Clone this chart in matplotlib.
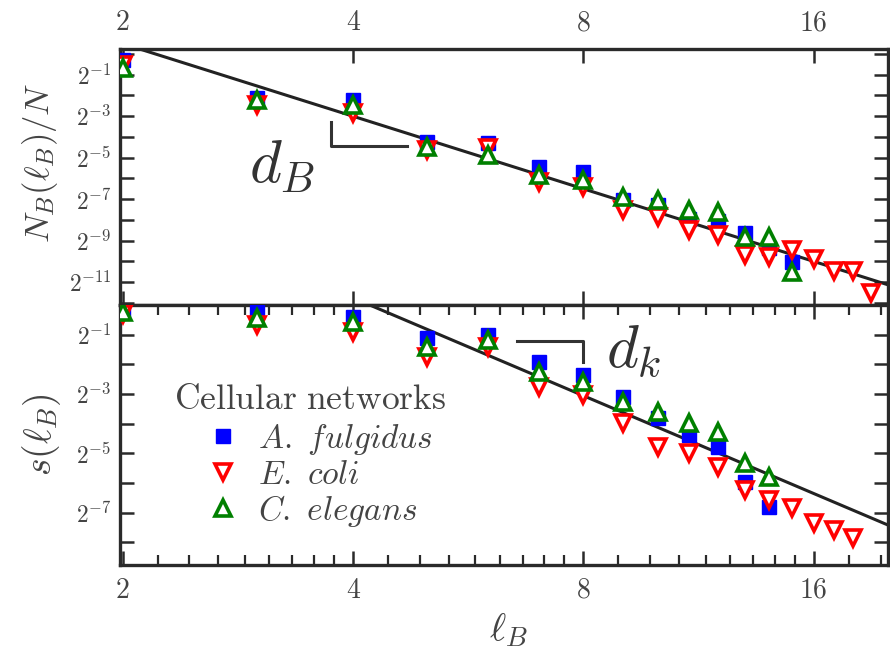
import numpy as np
import matplotlib
matplotlib.use("Agg")
import matplotlib.pyplot as plt
from matplotlib.ticker import FixedLocator, FixedFormatter, NullFormatter

plt.rcParams['mathtext.fontset'] = 'cm'
plt.rcParams['font.family'] = ['cmr10', 'DejaVu Serif']
plt.rcParams['axes.formatter.use_mathtext'] = True

# ---------------- data (log2 of the values) -------------
lB_A_top = [2, 3, 4, 5, 6, 7, 8, 9, 10, 11, 12, 13, 14, 15]
NB_A_log2 = [-0.30, -2.13, -2.23, -4.25, -4.30, -5.46, -5.70, -7.05, -7.30, -7.96, -8.05, -8.64, -9.36, -10.04]
lB_E_top = [2, 3, 4, 5, 6, 7, 8, 9, 10, 11, 12, 13, 14, 15, 16, 17, 18, 19]
NB_E_log2 = [-0.54, -2.47, -2.86, -4.64, -4.54, -6.18, -6.42, -7.53, -7.87, -8.49, -8.73, -9.70, -9.80,
             -9.46, -9.89, -10.45, -10.45, -11.50]
lB_C_top = [2, 3, 4, 5, 6, 7, 8, 9, 10, 11, 12, 13, 14, 15]
NB_C_log2 = [-0.69, -2.23, -2.47, -4.49, -4.88, -5.84, -6.08, -6.90, -7.05, -7.53, -7.63, -8.83, -8.83, -10.52]

lB_A_bot = [2, 3, 4, 5, 6, 7, 8, 9, 10, 11, 12, 13, 14]
s_A_log2 = [-0.16, -0.22, -0.39, -1.10, -1.00, -1.91, -2.35, -3.09, -3.80, -4.38, -4.78, -5.97, -6.81]
lB_E_bot = [2, 3, 4, 5, 6, 7, 8, 9, 10, 11, 12, 13, 14, 15, 16, 17, 18]
s_E_log2 = [-0.32, -0.66, -0.90, -1.74, -1.41, -2.76, -3.03, -3.97, -4.78, -4.98, -5.45, -6.24, -6.58,
            -6.85, -7.36, -7.59, -7.86]
lB_C_bot = [2, 3, 4, 5, 6, 7, 8, 9, 10, 11, 12, 13, 14]
s_C_log2 = [-0.22, -0.43, -0.59, -1.41, -1.17, -2.25, -2.59, -3.26, -3.60, -3.97, -4.28, -5.33, -5.80]

# power-law fits
dB_exponent = 3.5
dB_log2_prefactor = 4.0
dk_exponent = 3.3
dk_log2_prefactor = 6.84

series_names = [r"$\mathit{A.\ fulgidus}$", r"$\mathit{E.\ coli}$", r"$\mathit{C.\ elegans}$"]
legend_title = r"$\mathrm{Cellular\ networks}$"
xtick_values = [2, 4, 8, 16]
xtick_labels = ["2", "4", "8", "16"]
ytick_top_exps = list(range(0, -13, -1))
ytick_bot_exps = list(range(0, -9, -1))

# ---------------- figure ----------------
W, H = 890, 655
fig = plt.figure(figsize=(W / 100, H / 100), dpi=100)
ax1 = fig.add_axes([120 / W, 1 - 305 / H, 768 / W, 256 / H])
ax2 = fig.add_axes([120 / W, 1 - 565 / H, 768 / W, 260 / H])

spine_c = '#2a2a2a'
lab_c = '#444444'
styles = [dict(marker='s', color='#0000ff', ms=10.5, mec='#0000ff', mfc='#0000ff', mew=1.0),
          dict(marker='v', color='#ff0000', ms=11, mec='#ff0000', mfc='white', mew=2.6),
          dict(marker='^', color='#008000', ms=11, mec='#008000', mfc='white', mew=2.6)]

l_fit = np.geomspace(1.9, 21, 60)

top_sets = [(lB_A_top, NB_A_log2), (lB_E_top, NB_E_log2), (lB_C_top, NB_C_log2)]
bot_sets = [(lB_A_bot, s_A_log2), (lB_E_bot, s_E_log2), (lB_C_bot, s_C_log2)]

ax1.plot(l_fit, 2.0 ** dB_log2_prefactor * l_fit ** (-dB_exponent), color='#222222', lw=2.2, zorder=2)
ax2.plot(l_fit, 2.0 ** dk_log2_prefactor * l_fit ** (-dk_exponent), color='#222222', lw=2.2, zorder=2)

handles = []
for (x, y), st, name in zip(top_sets, styles, series_names):
    ax1.plot(x, 2.0 ** np.array(y), ls='none', zorder=3, **st)
for (x, y), st, name in zip(bot_sets, styles, series_names):
    h, = ax2.plot(x, 2.0 ** np.array(y), ls='none', zorder=3, label=name, **st)
    handles.append(h)

for ax in (ax1, ax2):
    ax.set_xscale('log', base=2)
    ax.set_yscale('log', base=2)
    ax.set_xlim(1.985, 20.0)
    for sp in ax.spines.values():
        sp.set_linewidth(2.4)
        sp.set_color(spine_c)
    ax.xaxis.set_major_locator(FixedLocator(xtick_values))
    ax.xaxis.set_major_formatter(FixedFormatter(xtick_labels))
    ax.tick_params(axis='both', which='major', direction='in', length=10, width=1.8,
                   color=spine_c, top=True, right=True, labelcolor=lab_c)
    ax.tick_params(axis='x', which='major', labelsize=20, pad=9)
    ax.tick_params(axis='y', which='major', labelsize=17, pad=6)
    ax.tick_params(axis='both', which='minor', direction='in', length=7, width=1.6,
                   color=spine_c, top=True, right=True)

ax1.set_ylim(2.0 ** -12.1, 2.0 ** 0.24)
ax2.set_ylim(2.0 ** -8.77, 2.0 ** 0.0)

ax1.yaxis.set_major_locator(FixedLocator([2.0 ** e for e in ytick_top_exps]))
ax1.yaxis.set_major_formatter(FixedFormatter(
    [(r"$2^{%d}$" % e if e % 2 else "") for e in ytick_top_exps]))
ax2.yaxis.set_major_locator(FixedLocator([2.0 ** e for e in ytick_bot_exps]))
ax2.yaxis.set_major_formatter(FixedFormatter(
    [(r"$2^{%d}$" % e if e % 2 else "") for e in ytick_bot_exps]))
for ax in (ax1, ax2):
    ax.yaxis.set_minor_locator(FixedLocator([]))
    ax.yaxis.set_minor_formatter(NullFormatter())

# top panel: labels on top, no minor ticks
ax1.xaxis.set_minor_locator(FixedLocator([]))
ax1.tick_params(axis='x', which='both', labelbottom=False, labeltop=True)
# bottom panel: minor ticks at octave*(1+k/9)
minor_x = [o * (1 + k / 9) for o in (2, 4, 8, 16) for k in range(1, 9)]
ax2.xaxis.set_minor_locator(FixedLocator(minor_x))
ax2.xaxis.set_minor_formatter(NullFormatter())

# slope brackets
ax1.plot([3.75, 3.75, 4.70], [2.0 ** -3.29, 2.0 ** -4.45, 2.0 ** -4.45], color='#333333', lw=2.2, zorder=1)
ax1.text(0.168, 0.48, r"$d_B$", transform=ax1.transAxes, fontsize=44, color='#333333', va='baseline')
ax2.plot([6.56, 7.98, 7.98], [2.0 ** -1.2, 2.0 ** -1.2, 2.0 ** -1.91], color='#333333', lw=2.2, zorder=1)
ax2.text(0.633, 0.762, r"$d_k$", transform=ax2.transAxes, fontsize=44, color='#333333', va='baseline')

# legend
ax2.text(0.070, 0.60, legend_title, transform=ax2.transAxes, fontsize=25.5, color='#444444', va='baseline')
leg = ax2.legend(handles=handles, loc='upper left', bbox_to_anchor=(0.115, 0.55), frameon=False,
                 fontsize=24, handlelength=0.9, handletextpad=0.6, labelspacing=0.1,
                 borderpad=0, borderaxespad=0, numpoints=1)
for t in leg.get_texts():
    t.set_color('#444444')

# axis labels
fig.text(40 / W, 1 - 163 / H, r"$N_B(\ell_B)/N$", rotation=90, ha='center', va='center',
         fontsize=25, color='#444444')
fig.text(42 / W, 1 - 435 / H, r"$s(\ell_B)$", rotation=90, ha='center', va='center',
         fontsize=27, color='#444444')
fig.text(508 / W, 1 - 630 / H, r"$\ell_B$", ha='center', va='center', fontsize=28, color='#444444')

fig.savefig("out.png", dpi=100)
